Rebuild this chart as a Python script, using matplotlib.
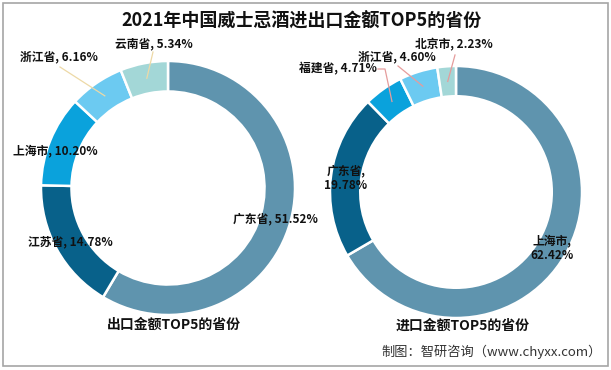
import numpy as np
import matplotlib
matplotlib.use("Agg")
import matplotlib.pyplot as plt
from matplotlib.lines import Line2D
from matplotlib.patches import Rectangle

plt.rcParams["font.family"] = ["Noto Sans CJK SC", "DejaVu Sans"]

W, H = 611, 370

# --- data ---
export_names = ["广东省", "江苏省", "上海市", "浙江省", "云南省"]
export_pct = [51.52, 14.78, 10.20, 6.16, 5.34]
import_names = ["上海市", "广东省", "福建省", "浙江省", "北京市"]
import_pct = [62.42, 19.78, 4.71, 4.60, 2.23]

title = "2021年中国威士忌酒进出口金额TOP5的省份"
export_title = "出口金额TOP5的省份"
import_title = "进口金额TOP5的省份"
source = "制图：智研咨询（www.chyxx.com）"

# --- palette ---
SLICE_COLORS = ["#5F94AE", "#08618A", "#0AA2DC", "#6CCAF1", "#A3D7D7"]
LEFT_LEADER = "#EDD9A6"
RIGHT_LEADER = "#E59C9C"
BORDER = "#A6A6A6"

# --- layout (pixels, origin top-left) ---
left_center, left_r = (168, 188), 127
right_center, right_r = (456, 192), 126
ring_width = 0.24

# label centres, keyed by slice index
left_labels = {0: (275, 219), 1: (70, 242), 2: (55, 151), 3: (59, 57), 4: (154, 44)}
left_leaders = {3: [(60, 67)], 4: [(153, 52)]}
right_labels = {0: (552, 248), 1: (346, 178), 2: (338, 69), 3: (397, 57), 4: (454, 45)}
right_multiline = {0, 1}
right_leaders = {2: [(378, 69), (385, 69)], 3: [(398, 66)], 4: [(455, 55)]}


def fx(x):
    return x / W


def fy(y):
    return 1 - y / H


def donut(fig, center, r, values, labels, label_pos, leaders, leader_color,
          multiline=()):
    cx, cy = center
    ax = fig.add_axes([fx(cx - r), fy(cy + r), 2 * r / W, 2 * r / H])
    ax.pie(values, colors=SLICE_COLORS, startangle=90, counterclock=False,
           radius=1, wedgeprops=dict(width=ring_width, edgecolor="white",
                                     linewidth=1.8))
    ax.set_xlim(-1, 1)
    ax.set_ylim(-1, 1)
    ax.axis("off")

    total = sum(values)
    cum = np.cumsum([0] + list(values)) / total
    for i, (name, v) in enumerate(zip(labels, values)):
        sep = ",\n" if i in multiline else ", "
        lx, ly = label_pos[i]
        fig.text(fx(lx), fy(ly), f"{name}{sep}{v:.2f}%", ha="center",
                 va="center", fontsize=8.5, fontweight="bold",
                 color="#111111", linespacing=1.15)
        if i in leaders:
            # leader runs from the label to the middle of its slice
            mid = (cum[i] + cum[i + 1]) / 2 * 2 * np.pi
            ax_pt = (0.88 * np.sin(mid), 0.88 * np.cos(mid))
            px, py = ax.transData.transform(ax_pt)
            pts = [(fx(x), fy(y)) for x, y in leaders[i]] + [(px / W, py / H)]
            xs, ys = zip(*pts)
            fig.add_artist(Line2D(xs, ys, color=leader_color, lw=0.9,
                                  transform=fig.transFigure))
    return ax


fig = plt.figure(figsize=(W / 100, H / 100), dpi=100)
fig.patch.set_facecolor("white")

fig.add_artist(Rectangle((fx(2.5), fy(366)), fx(605), (366 - 3) / H,
                         fill=False, edgecolor=BORDER, lw=1.2,
                         transform=fig.transFigure))

fig.text(fx(302), fy(21), title, ha="center", va="center", fontsize=13,
         fontweight="bold", color="#111111")

donut(fig, left_center, left_r, export_pct, export_names, left_labels,
      left_leaders, LEFT_LEADER)
donut(fig, right_center, right_r, import_pct, import_names, right_labels,
      right_leaders, RIGHT_LEADER, multiline=right_multiline)

fig.text(fx(174), fy(325), export_title, ha="center", va="center",
         fontsize=10, fontweight="bold", color="#111111")
fig.text(fx(463), fy(326), import_title, ha="center", va="center",
         fontsize=10, fontweight="bold", color="#111111")

fig.text(fx(602), fy(352), source, ha="right", va="center", fontsize=9.5,
         color="#333333")

fig.savefig("out.png", dpi=100)
